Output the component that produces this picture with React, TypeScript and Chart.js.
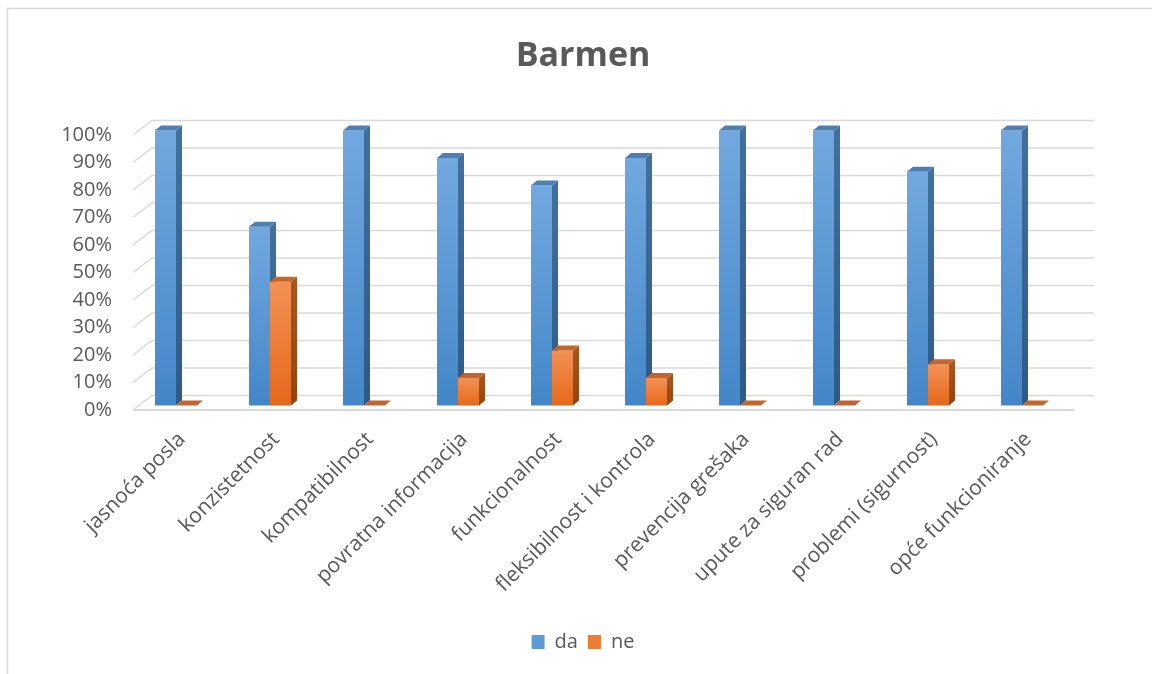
import React, { useEffect, useRef } from "react";
import { Chart, registerables } from "chart.js";

Chart.register(...registerables);

const chartTitle = "Barmen";
const categories = [
  "jasnoća posla",
  "konzistetnost",
  "kompatibilnost",
  "povratna informacija",
  "funkcionalnost",
  "fleksibilnost i kontrola",
  "prevencija grešaka",
  "upute za siguran rad",
  "problemi (sigurnost)",
  "opće funkcioniranje",
];
const seriesNames = ["da", "ne"];
const daValues = [100, 65, 100, 90, 80, 90, 100, 100, 85, 100];
const neValues = [0, 45, 0, 10, 20, 10, 0, 0, 15, 0];
const yMin = 0;
const yMax = 100;
const yStep = 10;

const FONT = "'Open Sans', 'DejaVu Sans', sans-serif";
const TEXT = "#595959";
const GRID = "#d9d9d9";

const palettes = [
  { legend: "#5b9bd5", frontTop: "#72a8df", frontBot: "#4387c8", sideTop: "#41709f", sideBot: "#2e5a88", top: "#4f7fb1" },
  { legend: "#ed7d31", frontTop: "#f39156", frontBot: "#e5681a", sideTop: "#a8561f", sideBot: "#94430f", top: "#c1662e" },
];

const DX = 6;
const DY = -5;
const BAR_SHIFT = -4.5;

const excel3d = {
  id: "excel3d",
  beforeDraw(chart: any) {
    const ctx = chart.ctx;
    ctx.save();
    ctx.fillStyle = "#ffffff";
    ctx.fillRect(0, 0, chart.width, chart.height);
    ctx.strokeStyle = GRID;
    ctx.lineWidth = 1.5;
    ctx.strokeRect(7.5, 8.5, chart.width + 50, chart.height + 50);
    ctx.restore();
  },
  beforeDatasetsDraw(chart: any) {
    const ctx = chart.ctx;
    const { left, right } = chart.chartArea;
    const ys = chart.scales.y;
    ctx.save();
    ctx.strokeStyle = GRID;
    ctx.lineWidth = 1.5;
    for (let v = yMin; v <= yMax; v += yStep) {
      const yf = ys.getPixelForValue(v);
      ctx.beginPath();
      ctx.moveTo(left + 4, yf);
      ctx.lineTo(left + 23, yf - 14.5);
      ctx.lineTo(right + 25, yf - 14.5);
      ctx.stroke();
    }
    const y0 = ys.getPixelForValue(yMin);
    ctx.lineWidth = 2;
    ctx.beginPath();
    ctx.moveTo(left + 4, y0);
    ctx.lineTo(right + 6, y0);
    ctx.stroke();

    const n = categories.length;
    for (let i = 0; i < n; i++) {
      chart.data.datasets.forEach((_ds: any, di: number) => {
        const meta = chart.getDatasetMeta(di);
        const el = meta.data[i];
        if (!el) return;
        const p = el.getProps(["x", "y", "base", "width"], true);
        const pal = palettes[di];
        const x0 = p.x - p.width / 2;
        const x1 = p.x + p.width / 2;
        const top = p.y + BAR_SHIFT;
        const bot = p.base + BAR_SHIFT;
        const h = bot - top;
        if (h > 0.5) {
          const g = ctx.createLinearGradient(0, top, 0, bot);
          g.addColorStop(0, pal.frontTop);
          g.addColorStop(1, pal.frontBot);
          ctx.fillStyle = g;
          ctx.fillRect(x0, top, x1 - x0, h);
          const gs = ctx.createLinearGradient(0, top, 0, bot);
          gs.addColorStop(0, pal.sideTop);
          gs.addColorStop(1, pal.sideBot);
          ctx.fillStyle = gs;
          ctx.beginPath();
          ctx.moveTo(x1, top);
          ctx.lineTo(x1 + DX, top + DY);
          ctx.lineTo(x1 + DX, bot + DY);
          ctx.lineTo(x1, bot);
          ctx.closePath();
          ctx.fill();
        }
        ctx.fillStyle = pal.top;
        ctx.beginPath();
        ctx.moveTo(x0, top);
        ctx.lineTo(x0 + DX, top + DY);
        ctx.lineTo(x1 + DX, top + DY);
        ctx.lineTo(x1, top);
        ctx.closePath();
        ctx.fill();
      });
    }
    ctx.restore();
    return false;
  },
};

export default function App() {
  const ref = useRef<HTMLCanvasElement>(null);
  useEffect(() => {
    if (!ref.current) return;
    const chart = new Chart(ref.current, {
      type: "bar",
      data: {
        labels: categories,
        datasets: [
          { label: seriesNames[0], data: daValues, backgroundColor: palettes[0].legend, borderWidth: 0 },
          { label: seriesNames[1], data: neValues, backgroundColor: palettes[1].legend, borderWidth: 0 },
        ],
      },
      options: {
        responsive: false,
        animation: false,
        devicePixelRatio: 1,
        layout: { padding: { left: 14, right: 0, top: 0, bottom: 12 } },
        datasets: { bar: { categoryPercentage: 0.447, barPercentage: 1 } },
        scales: {
          x: {
            grid: { display: false },
            border: { display: false },
            ticks: {
              autoSkip: false,
              maxRotation: 45,
              minRotation: 45,
              labelOffset: 6,
              padding: 9,
              color: TEXT,
              font: { family: FONT, size: 21 },
            },
            afterFit: (s: any) => {
              s.height = 212;
            },
          },
          y: {
            min: yMin,
            max: yMax,
            grid: { display: false, drawTicks: false },
            border: { display: false },
            ticks: {
              stepSize: yStep,
              padding: 17,
              color: TEXT,
              font: { family: FONT, size: 20 },
              callback: (v: any) => `${v}%`,
            },
            afterFit: (s: any) => {
              s.width = 115;
            },
          },
          yRightSpace: {
            position: "right",
            display: true,
            grid: { display: false, drawTicks: false },
            border: { display: false },
            ticks: { display: false },
            afterFit: (s: any) => {
              s.width = 83;
            },
          },
        },
        plugins: {
          title: {
            display: true,
            text: chartTitle,
            color: TEXT,
            font: { family: FONT, size: 34, weight: "bold" },
            padding: { top: 36, bottom: 58.2 },
          },
          legend: {
            position: "bottom",
            labels: {
              boxWidth: 13,
              boxHeight: 14,
              padding: 10,
              color: TEXT,
              font: { family: FONT, size: 20 },
            },
          },
          tooltip: { enabled: false },
        },
      },
      plugins: [excel3d],
    } as any);
    return () => chart.destroy();
  }, []);
  return (
    <div style={{ position: "fixed", left: 0, top: 0, width: 1152, height: 674, background: "#fff" }}>
      <canvas ref={ref} width={1152} height={674} style={{ display: "block" }} />
    </div>
  );
}
